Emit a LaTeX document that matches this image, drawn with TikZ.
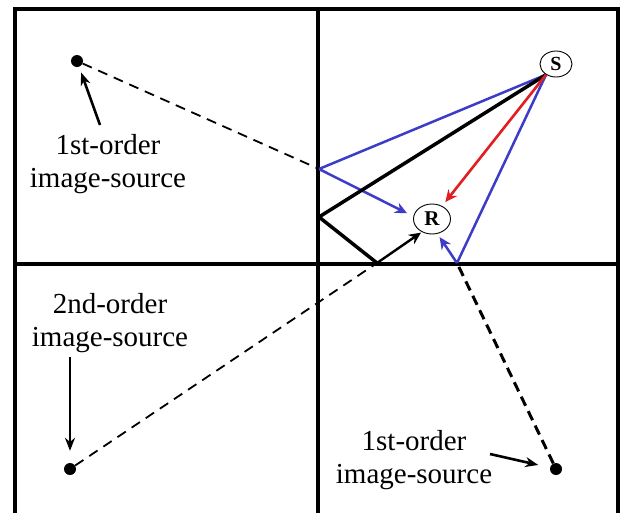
\documentclass[tikz,border=0pt]{standalone}
\usepackage{fontspec}
\setmainfont{Liberation Serif}
\usetikzlibrary{arrows.meta,shapes.geometric}
\definecolor{rayblue}{RGB}{60,60,200}
\definecolor{rayred}{RGB}{225,30,35}
\begin{document}
\begin{tikzpicture}[x=1pt,y=-1pt,
  wall/.style={line width=3.2pt, line cap=rect},
  srcnode/.style={ellipse, draw, line width=0.9pt, inner sep=0pt, fill=white},
  dot/.style={circle, fill=black, inner sep=0pt, minimum size=12pt},
  lbltext/.style={align=center, inner sep=0pt, font=\fontsize{29}{33}\selectfont},
  blueray/.style={draw=rayblue, line width=2.5pt},
  redray/.style={draw=rayred, line width=2.6pt},
  blackray/.style={draw=black, line width=3.5pt},
  rayhead/.style={-{Stealth[length=12pt,width=11pt]}},
  thindash/.style={line width=1.8pt, dash pattern=on 10pt off 7pt},
  thickdash/.style={line width=3pt, dash pattern=on 10pt off 6pt},
  labarrow/.style={line width=2.6pt, -{Stealth[length=13pt,width=10pt]}}]
\useasboundingbox (0,0) rectangle (621,512);
\fill[white] (0,0) rectangle (621,512);
% walls
\draw[wall] (15,512) -- (15,9) -- (618,9) -- (618,512);
\draw[wall] (318,9) -- (318,512);
\draw[wall] (15,264) -- (618,264);
% reflection points
\coordinate (w1) at (319,169);
\coordinate (w2) at (319,217);
\coordinate (f1) at (377,263);
\coordinate (f2) at (457,263);
% image sources
\node[dot] (I1) at (77,61) {};
\node[dot] (I2) at (70,469) {};
\node[dot] (I3) at (556,469) {};
% dashed image paths
\draw[thindash] (I1) -- (w1);
\draw[thindash] (I2) -- (f1);
\draw[thickdash] (I3) -- (f2);
% source and receiver
\node[srcnode, minimum width=32pt, minimum height=26pt] (S) at (556,64) {\fontsize{20}{20}\selectfont\bfseries S};
\node[srcnode, minimum width=37pt, minimum height=30pt] (R) at (432,219) {\fontsize{21}{21}\selectfont\bfseries R};
\coordinate (s0) at (S.227);
% rays
\draw[blueray] (s0) -- (w1);
\draw[blueray, rayhead, shorten >=7pt] (w1) -- (R.172);
\draw[blackray, line join=miter] (s0) -- (w2) -- (f1);
\draw[black, line width=2.4pt, rayhead, shorten >=1pt] (f1) -- (R.232);
\draw[blueray] (s0) -- (f2);
\draw[blueray, rayhead, shorten >=4pt] (f2) -- (R.290);
\draw[redray, rayhead, shorten >=5pt] (s0) -- (R.52);
% labels
\node[lbltext] (L1) at (108,164) {1st-order\\image-source};
\node[lbltext] (L2) at (110,323) {2nd-order\\image-source};
\node[lbltext] (L3) at (414,460) {1st-order\\image-source};
\coordinate (a1) at (100,125);
\coordinate (a2) at (70,357);
\coordinate (a3) at (490,454);
\draw[labarrow, shorten >=6pt] (a1) -- (I1);
\draw[labarrow, shorten >=12pt] (a2) -- (I2);
\draw[labarrow, shorten >=12pt] (a3) -- (I3);
\end{tikzpicture}
\end{document}
